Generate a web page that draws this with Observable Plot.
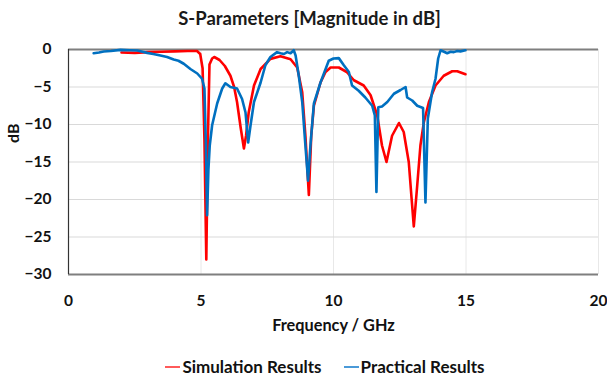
<!DOCTYPE html>
<html>
<head>
<meta charset="utf-8">
<script src="https://cdn.jsdelivr.net/npm/d3@7"></script>
<script src="https://cdn.jsdelivr.net/npm/@observablehq/plot@0.6"></script>
<style>
  body { margin: 0; background: #fff; font-family: Lato, "Open Sans", sans-serif; }
  #wrap { width: 607px; }
  #title { height: 36px; line-height: 36px; text-align: center; font-weight: bold; font-size: 18.5px; color: #1a1a1a; padding-left: 12px; }
  #legend { display: flex; justify-content: center; gap: 22px; font-weight: bold; font-size: 17px; color: #111; margin-top: 10px; padding-left: 43px; }
  #legend span.item { display: flex; align-items: center; }
  #legend span.sw { display: inline-block; width: 15px; height: 2px; margin-right: 2px; }
</style>
</head>
<body>
<div id="wrap">
  <div id="title">S-Parameters [Magnitude in dB]</div>
  <div id="chart"></div>
  <div id="legend"></div>
</div>
<script>
const seriesNames = ["Simulation Results", "Practical Results"];
const seriesColors = ["#ff0000", "#0070c0"];
const legendColors = ["#ff5a5a", "#4a9ad8"];
const xTicks = [0, 5, 10, 15, 20];
const yTicks = [0, -5, -10, -15, -20, -25, -30];

const simFreq = [2.0, 2.5, 3.0, 3.5, 4.0, 4.5, 4.85, 4.97, 5.06, 5.13, 5.2, 5.26, 5.32, 5.42, 5.5, 5.7, 5.9, 6.11, 6.25, 6.36, 6.5, 6.62, 6.7, 6.8, 7.0, 7.25, 7.62, 8.0, 8.38, 8.63, 8.82, 8.94, 9.07, 9.16, 9.26, 9.51, 9.7, 9.89, 10.2, 10.5, 10.77, 11.14, 11.4, 11.65, 11.83, 12.0, 12.21, 12.47, 12.65, 12.84, 12.95, 13.03, 13.16, 13.28, 13.41, 13.6, 13.85, 14.16, 14.48, 14.67, 14.98];
const simDb   = [-0.4, -0.45, -0.35, -0.3, -0.25, -0.2, -0.2, -0.6, -2.5, -12, -28, -12, -2.0, -1.2, -1.0, -1.4, -2.2, -3.5, -5.0, -7.0, -10.5, -13.2, -11.5, -8.4, -4.8, -2.6, -1.25, -0.9, -1.3, -2.4, -5.7, -11.5, -19.4, -11.5, -7.5, -4.4, -3.0, -2.4, -2.4, -3.0, -4.1, -4.8, -6.1, -8.8, -12.8, -15.0, -11.5, -9.8, -11.0, -15.0, -20.0, -23.6, -18.1, -12.8, -9.7, -7.0, -4.8, -3.5, -2.9, -2.9, -3.3];

const pracFreq = [0.95, 1.15, 1.33, 1.6, 1.96, 2.3, 2.6, 2.97, 3.2, 3.47, 3.72, 3.97, 4.15, 4.35, 4.6, 4.86, 5.04, 5.13, 5.18, 5.23, 5.28, 5.33, 5.42, 5.61, 5.8, 5.92, 6.11, 6.36, 6.55, 6.68, 6.78, 6.87, 7.0, 7.25, 7.43, 7.62, 7.87, 8.0, 8.13, 8.25, 8.38, 8.5, 8.57, 8.69, 8.82, 8.94, 9.04, 9.13, 9.26, 9.51, 9.82, 10.0, 10.2, 10.39, 10.58, 10.7, 10.95, 11.2, 11.46, 11.56, 11.62, 11.69, 11.83, 12.03, 12.28, 12.53, 12.72, 12.78, 12.97, 13.16, 13.38, 13.47, 13.56, 13.72, 13.85, 13.95, 14.04, 14.17, 14.29, 14.42, 14.54, 14.67, 14.79, 14.98];
const pracDb   = [-0.5, -0.4, -0.27, -0.2, -0.05, -0.1, -0.13, -0.45, -0.6, -0.8, -1.0, -1.33, -1.5, -1.9, -2.6, -3.2, -3.9, -5.2, -12, -22.1, -16, -12.8, -10.1, -7.2, -5.2, -4.5, -5.0, -5.2, -6.6, -8.4, -12.4, -10.1, -7.0, -4.4, -2.1, -1.0, -0.35, -0.5, -0.6, -0.35, -0.5, -0.1, -0.8, -3.5, -7.0, -12.8, -17.5, -12.8, -7.2, -4.4, -1.5, -1.2, -1.15, -2.1, -3.0, -4.8, -5.5, -6.4, -7.5, -8.8, -19.0, -7.7, -7.6, -7.0, -5.9, -5.4, -5.0, -6.4, -6.8, -7.5, -7.8, -20.4, -9.2, -5.7, -3.9, -1.2, -0.1, -0.3, -0.5, -0.3, -0.35, -0.2, -0.25, -0.1];

const sim = simFreq.map((f, i) => ({f, db: simDb[i]}));
const prac = pracFreq.map((f, i) => ({f, db: pracDb[i]}));

const chart = Plot.plot({
  width: 607,
  height: 310,
  marginTop: 13,
  marginBottom: 72,
  marginLeft: 68,
  marginRight: 9,
  style: { fontFamily: "Lato, 'Open Sans', sans-serif", fontSize: "15.5px", fontWeight: "bold", color: "#111", background: "#fff" },
  x: { domain: [0, 20], ticks: xTicks, tickSize: 0, tickPadding: 20, label: null },
  y: { domain: [-30, 0], ticks: yTicks, tickSize: 0, tickPadding: 17, label: null },
  marks: [
    Plot.ruleX(xTicks.filter(d => d > 0), { stroke: "#e8e8e8", strokeWidth: 1 }),
    Plot.ruleY(yTicks.filter(d => d < 0 && d > -30), { stroke: "#d9d9d9", strokeWidth: 1 }),
    Plot.ruleY([0, -30], { stroke: "#7f7f7f", strokeWidth: 2 }),
    Plot.ruleX([0], { stroke: "#333", strokeWidth: 1.2 }),
    Plot.line(sim, { x: "f", y: "db", stroke: seriesColors[0], strokeWidth: 2.6 }),
    Plot.line(prac, { x: "f", y: "db", stroke: seriesColors[1], strokeWidth: 2.6 }),
    Plot.text(["Frequency / GHz"], { frameAnchor: "bottom", dy: 56, text: d => d, fontSize: 16.3, fontWeight: "bold" }),
    Plot.text(["dB"], { frameAnchor: "left", dx: -55, dy: -19, rotate: -90, text: d => d, fontSize: 16, fontWeight: "bold" })
  ]
});
document.getElementById("chart").appendChild(chart);

const legend = document.getElementById("legend");
seriesNames.forEach((name, i) => {
  const item = document.createElement("span");
  item.className = "item";
  const sw = document.createElement("span");
  sw.className = "sw";
  sw.style.background = legendColors[i];
  item.appendChild(sw);
  item.appendChild(document.createTextNode(name));
  legend.appendChild(item);
});
</script>
</body>
</html>
